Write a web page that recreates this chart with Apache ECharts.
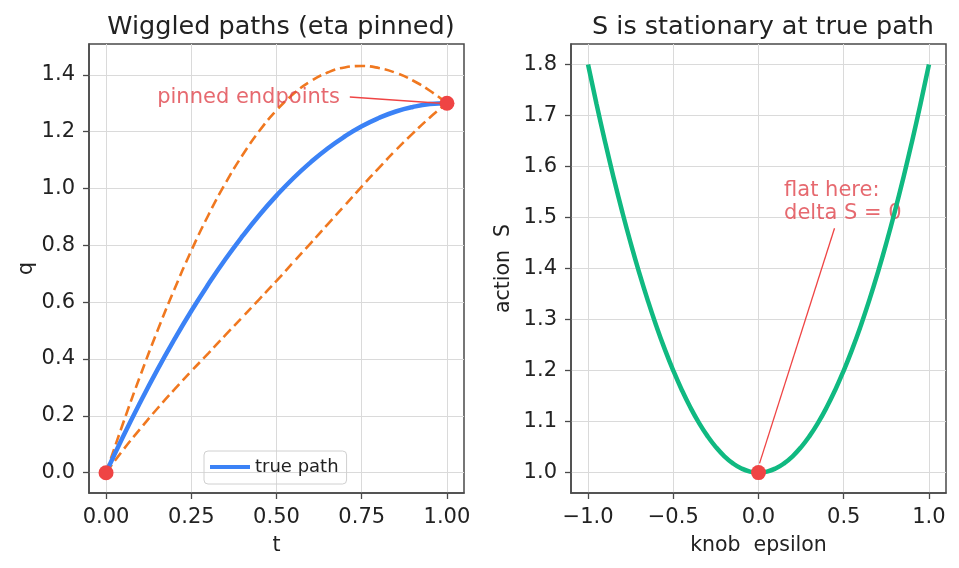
<!DOCTYPE html>
<html>
<head>
<meta charset="utf-8">
<script src="https://cdn.jsdelivr.net/npm/echarts@6/dist/echarts.min.js"></script>
<style>
  html, body { margin: 0; padding: 0; background: #fff; }
  #chart { width: 959px; height: 568px; }
</style>
</head>
<body>
<div id="chart"></div>
<script>
// left panel: time and the three paths
var tVals = [0, 0.05, 0.1, 0.15, 0.2, 0.25, 0.3, 0.35, 0.4, 0.45, 0.5,
             0.55, 0.6, 0.65, 0.7, 0.75, 0.8, 0.85, 0.9, 0.95, 1.0]
var truePath = [0, 0.127, 0.247, 0.361, 0.468, 0.569, 0.663, 0.751, 0.832, 0.907, 0.975,
                1.037, 1.092, 1.141, 1.183, 1.219, 1.248, 1.271, 1.287, 1.297, 1.3]
var wiggleUp = [0, 0.174, 0.340, 0.497, 0.644, 0.781, 0.906, 1.018, 1.117, 1.203, 1.275,
                1.333, 1.377, 1.408, 1.426, 1.431, 1.424, 1.407, 1.380, 1.344, 1.3]
var wiggleDown = [0, 0.080, 0.154, 0.225, 0.292, 0.357, 0.420, 0.484, 0.547, 0.611, 0.675,
                  0.741, 0.807, 0.874, 0.940, 1.007, 1.072, 1.135, 1.194, 1.250, 1.3]
var endpoints = [[0, 0], [1, 1.3]]

// right panel: action vs knob
var epsVals = [-1, -0.95, -0.9, -0.85, -0.8, -0.75, -0.7, -0.65, -0.6, -0.55, -0.5,
               -0.45, -0.4, -0.35, -0.3, -0.25, -0.2, -0.15, -0.1, -0.05, 0,
               0.05, 0.1, 0.15, 0.2, 0.25, 0.3, 0.35, 0.4, 0.45, 0.5,
               0.55, 0.6, 0.65, 0.7, 0.75, 0.8, 0.85, 0.9, 0.95, 1]
var actionVals = [1.8, 1.722, 1.648, 1.578, 1.512, 1.45, 1.392, 1.338, 1.288, 1.242, 1.2,
                  1.162, 1.128, 1.098, 1.072, 1.05, 1.032, 1.018, 1.008, 1.002, 1.0,
                  1.002, 1.008, 1.018, 1.032, 1.05, 1.072, 1.098, 1.128, 1.162, 1.2,
                  1.242, 1.288, 1.338, 1.392, 1.45, 1.512, 1.578, 1.648, 1.722, 1.8]
var trueAction = [[0, 1.0]]

// tick labels
var tTicks = [0, 0.25, 0.5, 0.75, 1.0]
var qTicks = [0, 0.2, 0.4, 0.6, 0.8, 1.0, 1.2, 1.4]
var epsTicks = [-1, -0.5, 0, 0.5, 1]
var sTicks = [1.0, 1.1, 1.2, 1.3, 1.4, 1.5, 1.6, 1.7, 1.8]

// annotations
var pinnedNote = { text: 'pinned endpoints', at: [0.15, 1.3], from: [0.715, 1.322], to: [0.98, 1.3] }
var flatNote = { text: 'flat here:\ndelta S = 0', at: [0.15, 1.5], from: [0.446, 1.479], to: [0.006, 1.018] }

var FONT = 'DejaVu Sans'
var RED = '#ef4444'
var NOTE = '#e0434b'

function zip(xs, ys) {
    return xs.map(function (x, i) { return [x, ys[i]] })
}

function makeAxis(gridIndex, min, max, ticks, digits, name, gap, isY) {
    var fmt = function (v) {
        var s = Number(v).toFixed(digits)
        return s.replace('-', '\u2212')
    }
    return {
        type: 'value',
        gridIndex: gridIndex,
        min: min,
        max: max,
        name: name,
        nameLocation: 'middle',
        nameGap: gap,
        nameTextStyle: { fontFamily: FONT, fontSize: 20.5, color: '#222' },
        axisLine: { show: true, onZero: false, lineStyle: { color: '#4a4a4a', width: 1.5 } },
        axisTick: { show: true, customValues: ticks, length: 6, lineStyle: { color: '#4a4a4a', width: 1.3 } },
        axisLabel: { customValues: ticks, formatter: fmt, margin: isY ? 14 : 14,
                     fontFamily: FONT, fontSize: 21, color: '#222' },
        splitLine: { show: true, lineStyle: { color: '#dadada', width: 1 } }
    }
}

var chart = echarts.init(document.getElementById('chart'), null, { renderer: 'canvas' })

var option = {
    backgroundColor: '#fff',
    animation: false,
    title: [
        { text: 'Wiggled paths (eta pinned)', left: 276, top: 9, textAlign: 'center',
          textStyle: { fontFamily: FONT, fontSize: 25.5, fontWeight: 'normal', color: '#222' } },
        { text: 'S is stationary at true path', left: 758, top: 9, textAlign: 'center',
          textStyle: { fontFamily: FONT, fontSize: 25.5, fontWeight: 'normal', color: '#222' } }
    ],
    grid: [
        { left: 89, top: 44, width: 375, height: 449, show: true, borderColor: '#4a4a4a', borderWidth: 1.5 },
        { left: 571, top: 44, width: 375, height: 449, show: true, borderColor: '#4a4a4a', borderWidth: 1.5 }
    ],
    legend: {
        data: ['true path'],
        left: 204, top: 451,
        padding: [7, 8, 8, 6],
        icon: 'rect',
        itemWidth: 40, itemHeight: 4,
        itemGap: 10,
        borderColor: '#d0d0d0', borderWidth: 1, borderRadius: 4,
        textStyle: { fontFamily: FONT, fontSize: 18, color: '#222' }
    },
    xAxis: [
        makeAxis(0, -0.05, 1.05, tTicks, 2, 't', 42, false),
        makeAxis(1, -1.1, 1.1, epsTicks, 1, 'knob  epsilon', 42, false)
    ],
    yAxis: [
        makeAxis(0, -0.0715, 1.5085, qTicks, 1, 'q', 52, true),
        makeAxis(1, 0.96, 1.84, sTicks, 1, 'action  S', 57, true)
    ],
    series: [
        {
            name: 'wiggle up', type: 'line', xAxisIndex: 0, yAxisIndex: 0,
            data: zip(tVals, wiggleUp), smooth: true, symbol: 'none',
            lineStyle: { color: '#f07820', width: 2.6, type: [10, 5] }, z: 2
        },
        {
            name: 'wiggle down', type: 'line', xAxisIndex: 0, yAxisIndex: 0,
            data: zip(tVals, wiggleDown), smooth: true, symbol: 'none',
            lineStyle: { color: '#f07820', width: 2.6, type: [10, 5] }, z: 2
        },
        {
            name: 'true path', type: 'line', xAxisIndex: 0, yAxisIndex: 0,
            data: zip(tVals, truePath), smooth: true, symbol: 'none',
            itemStyle: { color: '#3b82f6' },
            lineStyle: { color: '#3b82f6', width: 4.5 }, z: 3,
            markLine: {
                silent: true, symbol: ['none', 'arrow'], symbolSize: [0, 8],
                label: { show: false }, z: 6,
                lineStyle: { color: RED, width: 1.3, type: 'solid' },
                data: [[{ coord: pinnedNote.from }, { coord: pinnedNote.to }]]
            }
        },
        {
            name: 'endpoints', type: 'scatter', xAxisIndex: 0, yAxisIndex: 0,
            data: endpoints, symbolSize: 15, itemStyle: { color: RED, opacity: 1 }, z: 5
        },
        {
            name: 'pinned note', type: 'scatter', xAxisIndex: 0, yAxisIndex: 0,
            data: [pinnedNote.at], symbolSize: 0, silent: true,
            label: { show: true, position: [0, 0], align: 'left', verticalAlign: 'bottom',
                     formatter: pinnedNote.text, fontFamily: FONT, fontSize: 21, color: NOTE,
                     padding: [0, 0, -5, 0] }
        },
        {
            name: 'action', type: 'line', xAxisIndex: 1, yAxisIndex: 1,
            data: zip(epsVals, actionVals), smooth: true, symbol: 'none',
            lineStyle: { color: '#10b981', width: 4.5 }, z: 3,
            markLine: {
                silent: true, symbol: ['none', 'arrow'], symbolSize: [0, 8],
                label: { show: false }, z: 6,
                lineStyle: { color: RED, width: 1.3, type: 'solid' },
                data: [[{ coord: flatNote.from }, { coord: flatNote.to }]]
            }
        },
        {
            name: 'true action', type: 'scatter', xAxisIndex: 1, yAxisIndex: 1,
            data: trueAction, symbolSize: 15, itemStyle: { color: RED, opacity: 1 }, z: 5
        },
        {
            name: 'flat note', type: 'scatter', xAxisIndex: 1, yAxisIndex: 1,
            data: [flatNote.at], symbolSize: 0, silent: true,
            label: { show: true, position: [0, 0], align: 'left', verticalAlign: 'bottom',
                     formatter: flatNote.text, fontFamily: FONT, fontSize: 21, color: NOTE,
                     lineHeight: 23, padding: [0, 0, -8, 0] }
        }
    ]
}

chart.setOption(option)
</script>
</body>
</html>
